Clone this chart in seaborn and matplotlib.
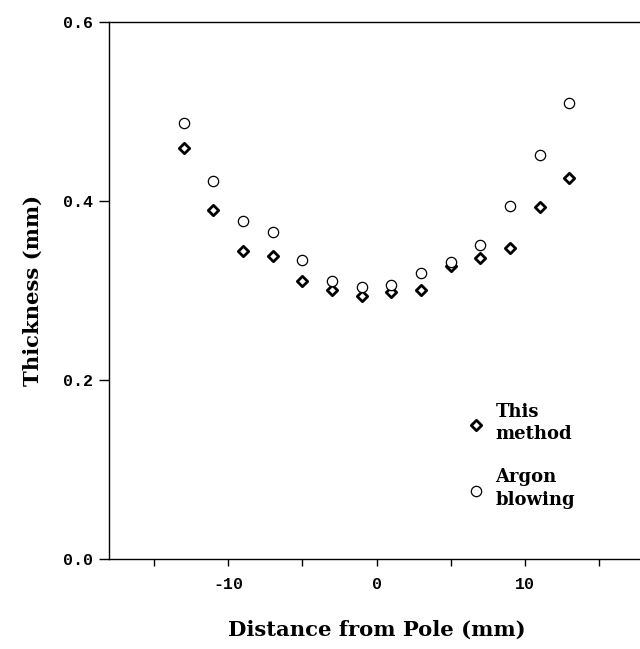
import matplotlib
matplotlib.use("Agg")
import matplotlib.pyplot as plt
import seaborn as sns
import pandas as pd

# Data
distance = [-13, -11, -9, -7, -5, -3, -1, 1, 3, 5, 7, 9, 11, 13]
this_method = [0.459, 0.390, 0.344, 0.339, 0.311, 0.301, 0.294, 0.298, 0.300, 0.327, 0.336, 0.347, 0.393, 0.425]
argon_blowing = [0.487, 0.422, 0.377, 0.365, 0.334, 0.311, 0.304, 0.306, 0.320, 0.332, 0.351, 0.394, 0.451, 0.509]
xticks = [-15, -10, -5, 0, 5, 10, 15]
xticklabels = ["", "-10", "", "0", "", "10", ""]
yticks = [0.0, 0.2, 0.4, 0.6]
yticklabels = ["0.0", "0.2", "0.4", "0.6"]

sns.set_theme(style="white")
plt.rcParams["font.family"] = ["DejaVu Serif"]
plt.rcParams["text.color"] = "black"

df_m = pd.DataFrame({"x": distance, "y": this_method})
df_a = pd.DataFrame({"x": distance, "y": argon_blowing})

fig = plt.figure(figsize=(6.4, 6.49), dpi=100)
ax = fig.add_axes([0.1708, 0.1382, 0.835, 0.8284])

sns.scatterplot(data=df_m, x="x", y="y", ax=ax, marker="D", s=28,
                color="white", edgecolor="black", linewidth=2.0,
                label="This\nmethod", zorder=3)
sns.scatterplot(data=df_a, x="x", y="y", ax=ax, marker="o", s=55,
                color="white", edgecolor="black", linewidth=0.9,
                label="Argon\nblowing", zorder=3)

ax.set_xlim(-18, 18)
ax.set_ylim(0.0, 0.6)
ax.set_xticks(xticks)
ax.set_xticklabels(xticklabels)
ax.set_yticks(yticks)
ax.set_yticklabels(yticklabels)

for lab in ax.get_xticklabels() + ax.get_yticklabels():
    lab.set_fontfamily("Liberation Mono")
    lab.set_fontsize(12)
    lab.set_fontweight("bold")

ax.tick_params(axis="y", direction="out", length=7, width=1, pad=5, left=True, colors="black")
ax.tick_params(axis="x", direction="out", length=5, width=1, pad=8, bottom=True, colors="black")

for sp in ax.spines.values():
    sp.set_color("black")
    sp.set_linewidth(1.0)

ax.set_xlabel("Distance from Pole (mm)", fontsize=15.2, fontweight="bold",
              labelpad=20, color="black")
ax.set_ylabel("Thickness (mm)", fontsize=15.2, fontweight="bold",
              labelpad=14, color="black")

leg = ax.legend(frameon=False, loc="upper left", bbox_to_anchor=(0.655, 0.305),
                fontsize=13, labelspacing=1.35, handletextpad=0.6,
                handlelength=1.0, borderaxespad=0)
for t in leg.get_texts():
    t.set_fontweight("bold")
    t.set_color("black")
    t.set_linespacing(1.35)

fig.savefig("out.png", dpi=100, facecolor="white")
